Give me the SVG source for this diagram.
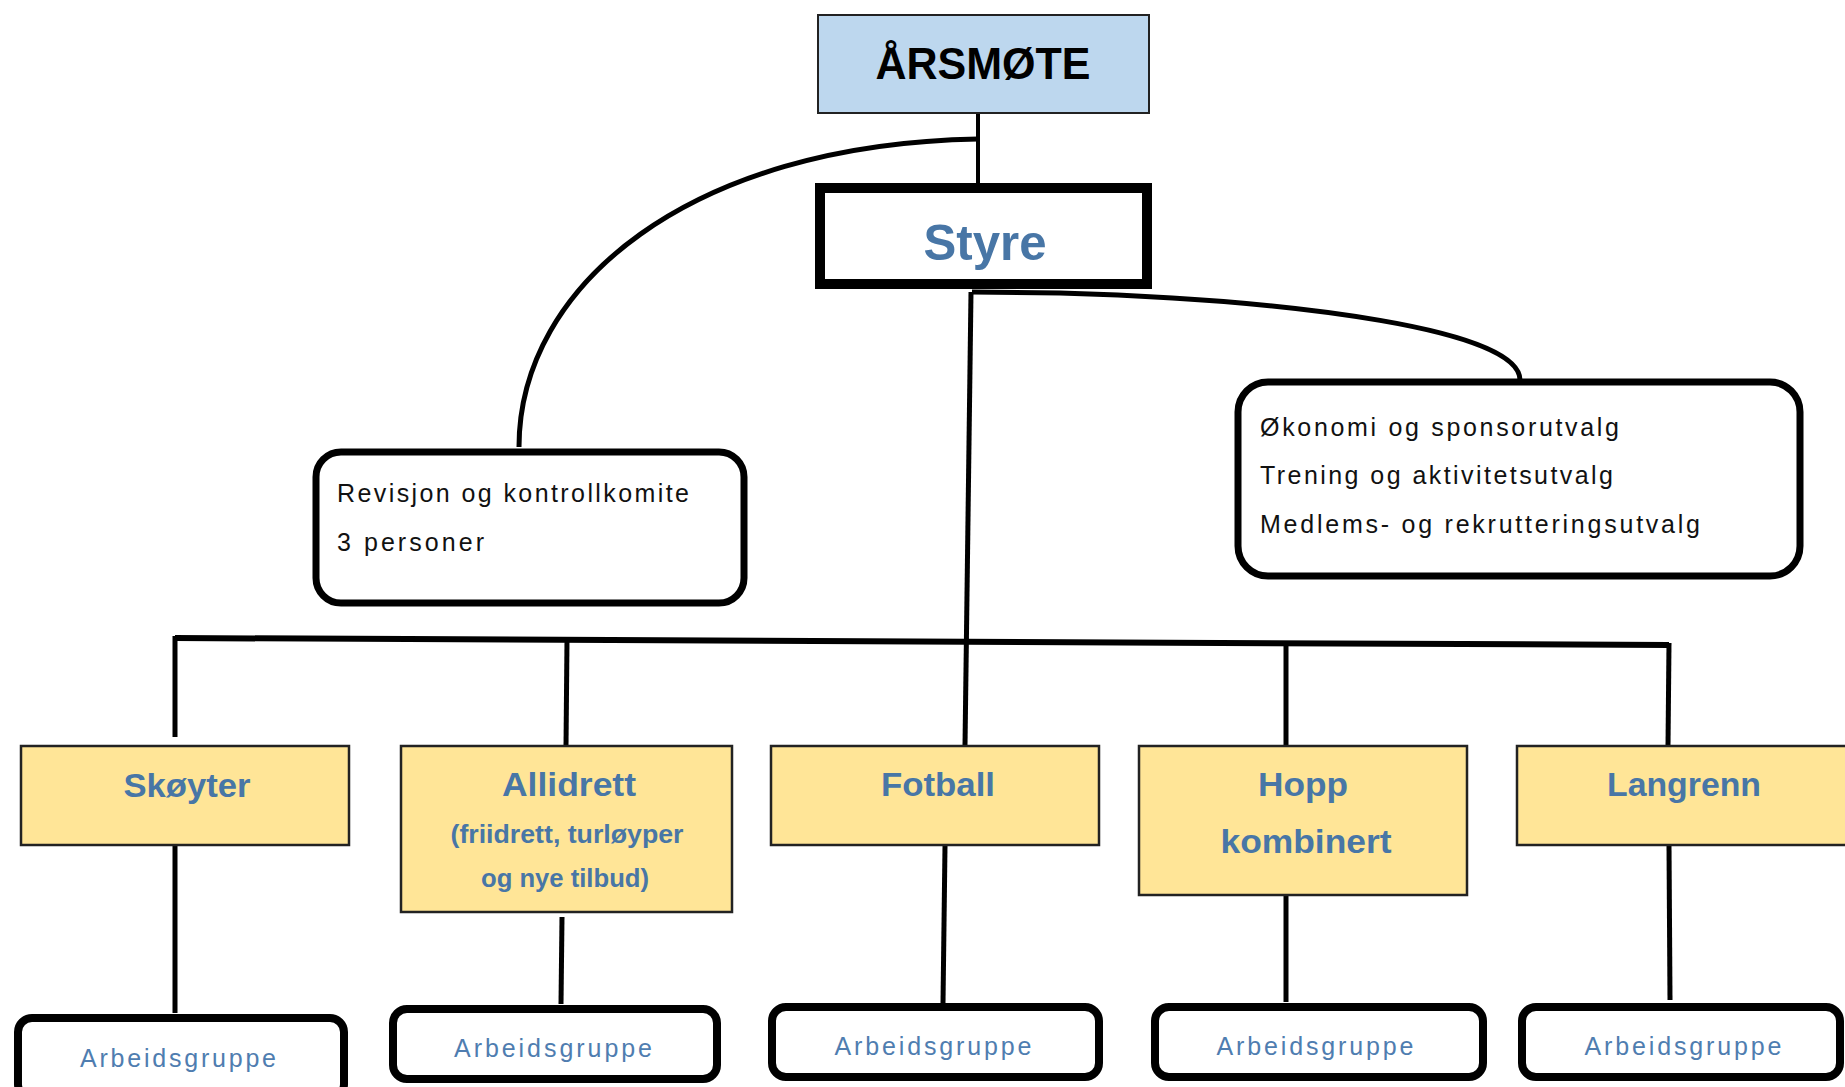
<svg xmlns="http://www.w3.org/2000/svg" width="1845" height="1087" viewBox="0 0 1845 1087">
<style>
.bg{fill:#ffffff}
.con{fill:none;stroke:#000;stroke-width:5;stroke-linecap:butt}
.top{fill:#BDD7EE;stroke:#222;stroke-width:2}
.board{fill:#fff;stroke:#000;stroke-width:10}
.cmt{fill:#fff;stroke:#000;stroke-width:7}
.sport{fill:#FFE597;stroke:#222;stroke-width:2.5}
.grp{fill:#fff;stroke:#000;stroke-width:8}
text{font-family:"Liberation Sans",Arial,sans-serif}
.t-top{font-size:44px;font-weight:bold;fill:#000;text-anchor:middle}
.t-board{font-size:50px;font-weight:bold;fill:#4876A6;text-anchor:middle}
.t-body{font-size:25px;fill:#111}
.t-sport{font-size:33px;font-weight:bold;fill:#4876A6;text-anchor:middle}
.t-sub{font-size:25px;font-weight:bold;fill:#4876A6;text-anchor:middle}
.t-grp{font-size:25px;fill:#4F7DB0;text-anchor:middle}
</style>
<rect class="bg" x="0" y="0" width="1845" height="1087"/>
<g id="connectors">
  <line class="con" x1="978" y1="113" x2="978" y2="186" style="stroke-width:4"/>
  <path class="con" d="M 978 139 C 690 144, 519 285, 519 447"/>
  <path class="con" d="M 972 292 L 1060 293 C 1300 300, 1520 330, 1520 380"/>
  <path class="con" d="M 971 292 L 965 746"/>
  <path class="con" d="M 175 638 L 1669 645" style="stroke-width:6"/>
  <line class="con" x1="175" y1="636" x2="175" y2="737"/>
  <line class="con" x1="567" y1="640" x2="566" y2="746"/>
  <line class="con" x1="1286" y1="644" x2="1286" y2="746"/>
  <line class="con" x1="1669" y1="643" x2="1668" y2="746"/>
  <line class="con" x1="175" y1="846" x2="175" y2="1013"/>
  <line class="con" x1="562" y1="917" x2="561" y2="1004"/>
  <line class="con" x1="945" y1="846" x2="943" y2="1003"/>
  <line class="con" x1="1286" y1="895" x2="1286" y2="1002"/>
  <line class="con" x1="1669" y1="846" x2="1670" y2="1000"/>
</g>
<g id="node-arsmote">
  <rect class="top" x="818" y="15" width="331" height="98"/>
  <text class="t-top" x="983" y="79" textLength="215" lengthAdjust="spacingAndGlyphs">ÅRSMØTE</text>
</g>
<g id="node-styre">
  <rect class="board" x="820" y="188" width="327" height="96"/>
  <text class="t-board" x="985" y="260" textLength="123" lengthAdjust="spacingAndGlyphs">Styre</text>
</g>
<g id="node-revisjon">
  <rect class="cmt" x="316" y="452" width="428" height="151" rx="25"/>
  <text class="t-body" x="337" y="502" textLength="352" lengthAdjust="spacing">Revisjon og kontrollkomite</text>
  <text class="t-body" x="337" y="551" textLength="147" lengthAdjust="spacing">3 personer</text>
</g>
<g id="node-utvalg">
  <rect class="cmt" x="1238" y="382" width="562" height="194" rx="30"/>
  <text class="t-body" x="1260" y="436" textLength="359" lengthAdjust="spacing">Økonomi og sponsorutvalg</text>
  <text class="t-body" x="1260" y="484" textLength="353" lengthAdjust="spacing">Trening og aktivitetsutvalg</text>
  <text class="t-body" x="1260" y="533" textLength="440" lengthAdjust="spacing">Medlems- og rekrutteringsutvalg</text>
</g>
<g id="node-skoyter">
  <rect class="sport" x="21" y="746" width="328" height="99"/>
  <text class="t-sport" x="187" y="797" textLength="127" lengthAdjust="spacingAndGlyphs">Skøyter</text>
</g>
<g id="node-allidrett">
  <rect class="sport" x="401" y="746" width="331" height="166"/>
  <text class="t-sport" x="569" y="796" textLength="134" lengthAdjust="spacingAndGlyphs">Allidrett</text>
  <text class="t-sub" x="567" y="843" textLength="233" lengthAdjust="spacingAndGlyphs">(friidrett, turløyper</text>
  <text class="t-sub" x="565" y="887" textLength="168" lengthAdjust="spacingAndGlyphs">og nye tilbud)</text>
</g>
<g id="node-fotball">
  <rect class="sport" x="771" y="746" width="328" height="99"/>
  <text class="t-sport" x="938" y="796" textLength="114" lengthAdjust="spacingAndGlyphs">Fotball</text>
</g>
<g id="node-hopp">
  <rect class="sport" x="1139" y="746" width="328" height="149"/>
  <text class="t-sport" x="1303" y="796" textLength="90" lengthAdjust="spacingAndGlyphs">Hopp</text>
  <text class="t-sport" x="1306" y="853" textLength="171" lengthAdjust="spacingAndGlyphs">kombinert</text>
</g>
<g id="node-langrenn">
  <rect class="sport" x="1517" y="746" width="340" height="99"/>
  <text class="t-sport" x="1684" y="796" textLength="154" lengthAdjust="spacingAndGlyphs">Langrenn</text>
</g>
<g id="node-grp1">
  <rect class="grp" x="18" y="1018" width="326" height="80" rx="14"/>
  <text class="t-grp" x="178" y="1067" textLength="196" lengthAdjust="spacing">Arbeidsgruppe</text>
</g>
<g id="node-grp2">
  <rect class="grp" x="393" y="1009" width="324" height="70" rx="14"/>
  <text class="t-grp" x="553" y="1057" textLength="198" lengthAdjust="spacing">Arbeidsgruppe</text>
</g>
<g id="node-grp3">
  <rect class="grp" x="772" y="1007" width="327" height="70" rx="14"/>
  <text class="t-grp" x="933" y="1055" textLength="197" lengthAdjust="spacing">Arbeidsgruppe</text>
</g>
<g id="node-grp4">
  <rect class="grp" x="1155" y="1007" width="328" height="70" rx="14"/>
  <text class="t-grp" x="1315" y="1055" textLength="197" lengthAdjust="spacing">Arbeidsgruppe</text>
</g>
<g id="node-grp5">
  <rect class="grp" x="1522" y="1007" width="318" height="70" rx="14"/>
  <text class="t-grp" x="1683" y="1055" textLength="197" lengthAdjust="spacing">Arbeidsgruppe</text>
</g>
</svg>
